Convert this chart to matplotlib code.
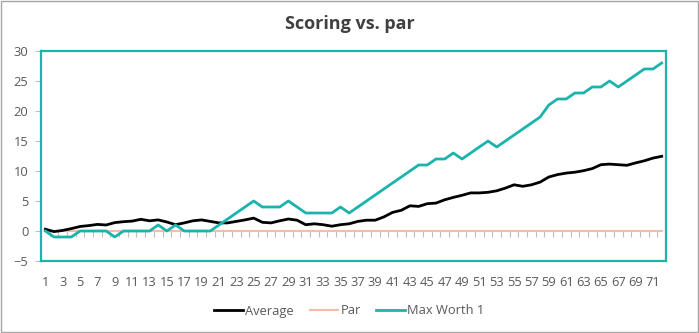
import matplotlib.pyplot as plt
from matplotlib.patches import Rectangle
import numpy as np

plt.rcParams['font.family'] = ['Open Sans', 'DejaVu Sans']

holes = list(range(1, 73))
average = [0.3, -0.1, 0.1, 0.4, 0.75, 0.9, 1.1, 1.0, 1.4, 1.55,
           1.65, 1.95, 1.7, 1.85, 1.5, 1.05, 1.35, 1.7, 1.85, 1.6,
           1.35, 1.35, 1.6, 1.85, 2.15, 1.45, 1.35, 1.7, 2.0, 1.8,
           1.05, 1.2, 1.05, 0.8, 1.05, 1.2, 1.6, 1.8, 1.8, 2.35,
           3.1, 3.45, 4.2, 4.1, 4.55, 4.65, 5.2, 5.6, 5.95, 6.35,
           6.35, 6.45, 6.7, 7.15, 7.7, 7.45, 7.7, 8.15, 9.0, 9.4,
           9.65, 9.8, 10.05, 10.4, 11.05, 11.15, 11.05, 10.95, 11.35, 11.7,
           12.15, 12.45]
par = [0] * 72
max_worth_1 = [0, -1, -1, -1, 0, 0, 0, 0, -1, 0,
               0, 0, 0, 1, 0, 1, 0, 0, 0, 0,
               1, 2, 3, 4, 5, 4, 4, 4, 5, 4,
               3, 3, 3, 3, 4, 3, 4, 5, 6, 7,
               8, 9, 10, 11, 11, 12, 12, 13, 12, 13,
               14, 15, 14, 15, 16, 17, 18, 19, 21, 22,
               22, 23, 23, 24, 24, 25, 24, 25, 26, 27,
               27, 28]

teal = '#1BB3AC'
salmon = '#F5BCA6'
grey_tick = '#BFBFBF'
text_col = '#595959'

fig = plt.figure(figsize=(6.99, 3.33), dpi=100)
fig.patches.append(Rectangle((0.001, 0.002), 0.997, 0.995, transform=fig.transFigure,
                             fill=False, edgecolor='#A6A6A6', linewidth=1))
ax = fig.add_axes([41 / 699, 1 - 261 / 333, 625 / 699, 210 / 333])

ax.plot(holes, par, color=salmon, linewidth=1.5, label='Par', zorder=2)
ax.plot(holes, average, color='black', linewidth=2, label='Average', zorder=3)
ax.plot(holes, max_worth_1, color=teal, linewidth=2, label='Max Worth 1', zorder=3)

ax.set_xlim(0.5, 72.5)
ax.set_ylim(-5, 30)
ax.set_yticks(range(-5, 31, 5))
ax.set_xticks(holes[::2])
ax.tick_params(axis='x', length=0, labelsize=9.3, colors=text_col, pad=11)
ax.tick_params(axis='y', length=4, width=0.8, color=grey_tick, labelsize=9.3,
               labelcolor=text_col, pad=5)
for s in ax.spines.values():
    s.set_color(teal)
    s.set_linewidth(1.6)

# category tick marks on the zero line
sec = ax.secondary_xaxis(5 / 35)
sec.set_xticks(np.arange(0.5, 73, 1))
sec.set_xticklabels([])
sec.tick_params(length=4, width=0.8, color=grey_tick, direction='out')
sec.spines['bottom'].set_visible(False)

fig.text(0.5, 1 - 24 / 333, 'Scoring vs. par', ha='center', va='center',
         fontsize=13, fontweight='bold', color='#404040')

h, l = ax.get_legend_handles_labels()
order = [1, 0, 2]
fig.legend([h[i] for i in order], [l[i] for i in order], loc='center',
           bbox_to_anchor=(0.5, 1 - 311 / 333), ncol=3, frameon=False,
           fontsize=9.3, handlelength=2.2, handletextpad=0.2, columnspacing=1.2,
           labelcolor=text_col)

fig.savefig('out.png', dpi=100)
